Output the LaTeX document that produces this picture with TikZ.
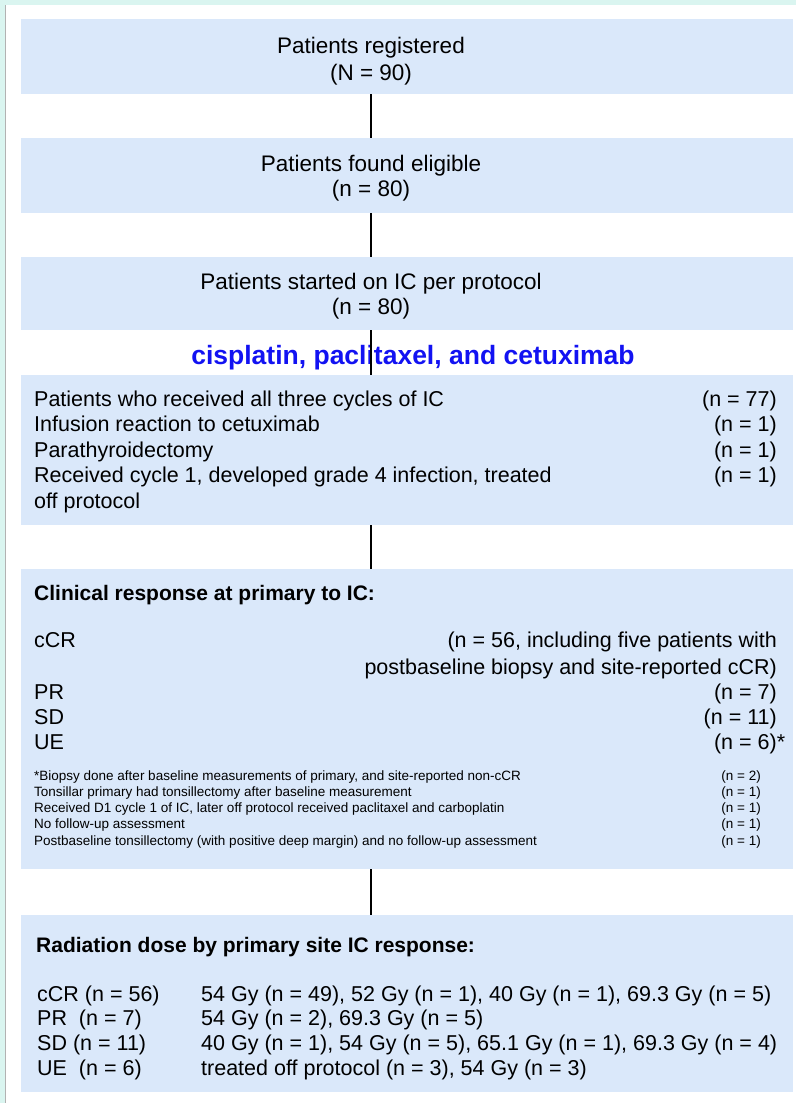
\documentclass[tikz,border=0pt]{standalone}
\usepackage{fontspec}
\setmainfont{Liberation Sans}
\usetikzlibrary{positioning}

\definecolor{panelblue}{HTML}{DAE8FA}
\definecolor{edgecyan}{HTML}{DAF5F0}
\definecolor{regimenblue}{HTML}{1212F2}

\begin{document}
\begin{tikzpicture}[
    x=1pt, y=-1pt,
    panel/.style={fill=panelblue, anchor=north west, minimum width=772pt, inner sep=0pt, outer sep=0pt},
    mid/.style={anchor=base, inner sep=0pt, font=\fontsize{22.5}{27}\selectfont},
    lt/.style={anchor=base west, inner sep=0pt, font=\fontsize{21.5}{26}\selectfont},
    rt/.style={anchor=base east, inner sep=0pt, font=\fontsize{21.5}{26}\selectfont},
    head/.style={anchor=base west, inner sep=0pt, font=\bfseries\fontsize{21}{25}\selectfont},
    note/.style={anchor=base west, inner sep=0pt, font=\fontsize{13.5}{16}\selectfont},
    noten/.style={anchor=base east, inner sep=0pt, font=\fontsize{13.5}{16}\selectfont},
    link/.style={line width=2.4pt}
]
    \useasboundingbox (0,0) rectangle (796,1103);

    % Page edge
    \fill[edgecyan] (0,0) rectangle (796,1103);
    \fill[white] (6,5) rectangle (796,1103);
    \draw[black!30, line width=1pt] (5.5,5) -- (5.5,1103);

    % Panels
    \node[panel, minimum height=75pt] (regbox) at (21,19) {};
    \node[panel, minimum height=75pt] (eligbox) at (21,138) {};
    \node[panel, minimum height=73pt] (startbox) at (21,257) {};
    \node[panel, minimum height=150pt] (cyclebox) at (21,375) {};
    \node[panel, minimum height=300pt] (respbox) at (21,569) {};
    \node[panel, minimum height=177pt] (dosebox) at (21,915) {};

    % Enrolment
    \node[mid] (reg) at (371,53) {Patients registered};
    \node[mid] (regn) at (371,80) {(N = 90)};
    \node[mid] (elig) at (371,171) {Patients found eligible};
    \node[mid] (elign) at (371,196) {(n = 80)};
    \node[mid] (start) at (371,289) {Patients started on IC per protocol};
    \node[mid] (startn) at (371,314) {(n = 80)};

    % Regimen
    \node[anchor=base, inner sep=0pt, text=regimenblue, font=\bfseries\fontsize{26.5}{30}\selectfont] (regimen) at (413,364) {cisplatin, paclitaxel, and cetuximab};

    % IC cycles
    \node[lt] (allthree) at (34,406) {Patients who received all three cycles of IC};
    \node[rt] (allthreen) at (777,406) {(n = 77)};
    \node[lt] (infusion) at (34,431.5) {Infusion reaction to cetuximab};
    \node[rt] (infusionn) at (777,431.5) {(n = 1)};
    \node[lt] (parathy) at (34,457) {Parathyroidectomy};
    \node[rt] (parathyn) at (777,457) {(n = 1)};
    \node[lt] (infect) at (34,482.5) {Received cycle 1, developed grade 4 infection, treated};
    \node[rt] (infectn) at (777,482.5) {(n = 1)};
    \node[lt] (offprot) at (34,508) {off protocol};

    % Clinical response
    \node[head] (resphead) at (34,600) {Clinical response at primary to IC:};
    \node[lt] (ccr) at (34,647) {cCR};
    \node[rt] (ccrn) at (777,647) {(n = 56, including five patients with};
    \node[rt] (ccrnb) at (777,674) {postbaseline biopsy and site-reported cCR)};
    \node[lt] (pr) at (34,699) {PR};
    \node[rt] (prn) at (777,699) {(n = 7)};
    \node[lt] (sd) at (34,724) {SD};
    \node[rt] (sdn) at (777,724) {(n = 11)};
    \node[lt] (ue) at (34,749) {UE};
    \node[rt] (uen) at (777,749) {(n = 6)\rlap{*}};

    \node[note] (biopsy) at (34,780) {*Biopsy done after baseline measurements of primary, and site-reported non-cCR};
    \node[noten] (biopsyn) at (761,780) {(n = 2)};
    \node[note] (tonsil) at (34,796) {Tonsillar primary had tonsillectomy after baseline measurement};
    \node[noten] (tonsiln) at (761,796) {(n = 1)};
    \node[note] (dayone) at (34,812) {Received D1 cycle 1 of IC, later off protocol received paclitaxel and carboplatin};
    \node[noten] (dayonen) at (761,812) {(n = 1)};
    \node[note] (nofollow) at (34,828) {No follow-up assessment};
    \node[noten] (nofollown) at (761,828) {(n = 1)};
    \node[note] (postbase) at (34,845) {Postbaseline tonsillectomy (with positive deep margin) and no follow-up assessment};
    \node[noten] (postbasen) at (761,845) {(n = 1)};

    % Radiation dose
    \node[head] (dosehead) at (36,952) {Radiation dose by primary site IC response:};
    \node[lt] (ccrdose) at (37,1001) {cCR (n = 56)};
    \node[lt] (ccrgy) at (201,1001) {54 Gy (n = 49), 52 Gy (n = 1), 40 Gy (n = 1), 69.3 Gy (n = 5)};
    \node[lt] (prdose) at (37,1025) {PR\ \ (n = 7)};
    \node[lt] (prgy) at (201,1025) {54 Gy (n = 2), 69.3 Gy (n = 5)};
    \node[lt] (sddose) at (37,1050) {SD (n = 11)};
    \node[lt] (sdgy) at (201,1050) {40 Gy (n = 1), 54 Gy (n = 5), 65.1 Gy (n = 1), 69.3 Gy (n = 4)};
    \node[lt] (uedose) at (37,1075) {UE\ \ (n = 6)};
    \node[lt] (uegy) at (201,1075) {treated off protocol (n = 3), 54 Gy (n = 3)};

    % Links
    \draw[link] (regbox.south -| regn) -- (eligbox.north -| regn);
    \draw[link] (eligbox.south -| elign) -- (startbox.north -| elign);
    \draw[link] (startbox.south -| startn) -- (cyclebox.north -| startn);
    \draw[link] (cyclebox.south -| startn) -- (respbox.north -| startn);
    \draw[link] (respbox.south -| startn) -- (dosebox.north -| startn);
\end{tikzpicture}
\end{document}
